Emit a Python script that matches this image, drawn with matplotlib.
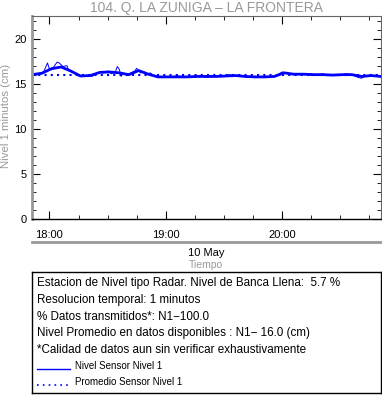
import numpy as np
import matplotlib
matplotlib.use("Agg")
import matplotlib.pyplot as plt
import matplotlib.dates as mdates
from matplotlib.lines import Line2D
from datetime import datetime, timedelta

plt.rcParams['font.family'] = ['Liberation Sans', 'DejaVu Sans']

# data (minutes from 18:00 on 10 May)
t0 = datetime(2024, 5, 10, 18, 0)
smooth_min = [-9, -4, 1, 6, 11, 16, 21, 26, 31, 36, 41, 46, 51, 56, 61, 66, 71, 76,
              81, 86, 91, 96, 101, 106, 111, 116, 121, 126, 131, 136, 141, 146,
              151, 156, 161, 166, 171]
smooth_val = [16.0, 16.15, 16.65, 16.85, 16.4, 15.85, 15.9, 16.25, 16.3, 16.2, 16.0,
              16.45, 16.05, 15.75, 15.75, 15.75, 15.75, 15.8, 15.8, 15.8, 15.85, 15.9,
              15.8, 15.75, 15.75, 15.8, 16.2, 16.05, 16.05, 16.0, 16.0, 15.95, 16.0,
              16.0, 15.8, 15.9, 15.8]
raw_min = [-9, -6, -3, -1, 0, 2, 4, 5, 7, 9, 10, 12, 14, 16, 18, 20, 22, 24, 26, 28,
           30, 32, 34, 35, 36, 37, 38, 40, 42, 44, 45, 47, 49, 50, 52, 54, 57, 60,
           63, 66, 69, 72, 75, 78, 81, 84, 87, 90, 93, 96, 99, 102, 105, 108, 111,
           114, 117, 120, 123, 126, 129, 132, 135, 138, 141, 144, 147, 150, 153,
           156, 159, 161, 163, 166, 169, 171]
raw_val = [16.0, 16.1, 16.3, 17.3, 16.6, 16.8, 17.4, 17.3, 16.9, 17.0, 16.5, 16.3,
           16.0, 15.8, 15.8, 15.9, 15.8, 16.1, 16.3, 16.2, 16.4, 16.1, 16.3, 16.9,
           16.6, 15.8, 16.2, 15.9, 16.2, 16.4, 16.7, 16.2, 16.3, 16.0, 16.2, 15.8,
           15.7, 15.8, 15.7, 15.9, 15.7, 15.8, 15.7, 15.9, 15.7, 15.8, 15.9, 15.8,
           16.0, 15.8, 15.9, 15.7, 15.8, 15.7, 15.8, 15.7, 15.9, 16.3, 16.1, 16.0,
           16.1, 16.0, 16.1, 15.9, 16.1, 15.9, 16.0, 15.9, 16.1, 16.0, 15.7, 15.6,
           15.9, 15.8, 15.9, 15.7]
mean_level = 16.0

info_lines = ["Estacion de Nivel tipo Radar. Nivel de Banca Llena:  5.7 %",
              "Resolucion temporal: 1 minutos",
              "% Datos transmitidos*: N1\u2212100.0",
              "Nivel Promedio en datos disponibles : N1\u2212 16.0 (cm)",
              "*Calidad de datos aun sin verificar exhaustivamente"]

blue = "#0000ff"
gray = "#999999"

fig = plt.figure(figsize=(3.82, 4.04), dpi=100)
ax = fig.add_axes([32/382, 1-219/404, 349/382, 203/404])

ts = [t0 + timedelta(minutes=m) for m in smooth_min]
tr = [t0 + timedelta(minutes=m) for m in raw_min]
ax.plot(tr, raw_val, color=blue, lw=0.7)
ax.plot(ts, smooth_val, color=blue, lw=2.0)
x0 = t0 - timedelta(minutes=9)
x1 = t0 + timedelta(minutes=171)
ax.plot([x0, x1], [mean_level, mean_level], color=blue, lw=1.5, ls=(0, (1, 2)))

ax.set_xlim(x0, x1)
ax.set_ylim(0, 22.5)
ax.xaxis.set_major_locator(mdates.HourLocator())
ax.xaxis.set_minor_locator(mdates.MinuteLocator(byminute=[0, 15, 30, 45]))
ax.xaxis.set_major_formatter(mdates.DateFormatter('%H:%M'))
ax.set_yticks([0, 5, 10, 15, 20])
ax.set_yticks(np.arange(0, 23, 1), minor=True)
ax.tick_params(which='both', direction='in', top=True, right=True, labelsize=8, pad=4)
ax.tick_params(which='major', length=6, width=0.8)
ax.tick_params(which='minor', length=3, width=0.6)
ax.tick_params(axis='x', pad=8)
for s in ['top', 'right']:
    ax.spines[s].set_color('#666666')
    ax.spines[s].set_linewidth(0.8)
ax.spines['left'].set_color(gray)
ax.spines['left'].set_linewidth(2)
ax.spines['bottom'].set_color('black')
ax.spines['bottom'].set_linewidth(1)

ax.set_title("104. Q. LA ZUNIGA \u2013 LA FRONTERA", color=gray, fontsize=10, pad=3)
fig.text(6/382, 1-116/404, "Nivel 1 minutos (cm)", rotation=90, color=gray,
         fontsize=8.2, ha='center', va='center')

fig.add_artist(Line2D([32/382, 381/382], [1-241.7/404]*2, color=gray, lw=2))
fig.text(206/382, 1-253/404, "10 May", fontsize=8, ha='center', va='center')
fig.text(206/382, 1-265/404, "Tiempo", fontsize=7.5, color=gray, ha='center', va='center')

box = fig.add_axes([32/382, 1-393/404, 349/382, 121/404])
box.set_xlim(0, 349)
box.set_ylim(121, 0)
box.set_xticks([])
box.set_yticks([])
for s in box.spines.values():
    s.set_linewidth(1)
for i, line in enumerate(info_lines):
    box.text(5, 11 + i*16.8, line, fontsize=8.4, va='center', ha='left')
box.plot([5, 38], [97, 97], color=blue, lw=1)
box.text(43, 94, "Nivel Sensor Nivel 1", fontsize=7, va='center')
box.plot([5, 38], [113, 113], color=blue, lw=1.2, ls=(0, (1, 2.5)))
box.text(43, 110, "Promedio Sensor Nivel 1", fontsize=7, va='center')

fig.savefig("out.png", dpi=100)
